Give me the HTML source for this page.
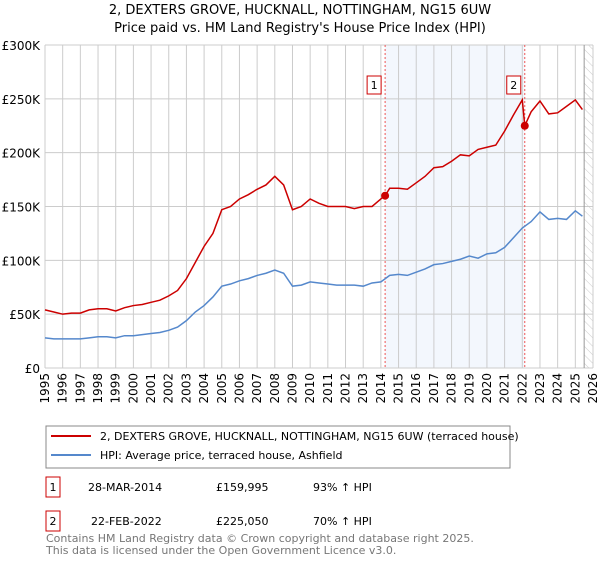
<!DOCTYPE html>
<html><head><meta charset="utf-8"><style>
body{margin:0;background:#fff;font-family:"Liberation Sans","DejaVu Sans",sans-serif}
</style></head><body>
<svg width="600" height="560" xmlns="http://www.w3.org/2000/svg" font-family="DejaVu Sans, Liberation Sans, sans-serif">
<text x="300" y="14" text-anchor="middle" font-size="13">2, DEXTERS GROVE, HUCKNALL, NOTTINGHAM, NG15 6UW</text>
<text x="300" y="32" text-anchor="middle" font-size="13">Price paid vs. HM Land Registry's House Price Index (HPI)</text>
<g id="plot"></g>
<g>
<rect x="46" y="426" width="464" height="42" fill="#fff" stroke="#888" stroke-width="1"/>
<line x1="51" y1="436" x2="91" y2="436" stroke="#cc0000" stroke-width="2"/>
<text x="100" y="440" font-size="11">2, DEXTERS GROVE, HUCKNALL, NOTTINGHAM, NG15 6UW (terraced house)</text>
<line x1="51" y1="455" x2="91" y2="455" stroke="#5588cc" stroke-width="2"/>
<text x="100" y="459" font-size="11">HPI: Average price, terraced house, Ashfield</text>
</g>
<g font-size="11">
<rect x="46" y="477" width="14" height="20" fill="none" stroke="#cc0000"/><text x="53" y="491" text-anchor="middle">1</text>
<text x="88" y="491">28-MAR-2014</text><text x="216" y="491">£159,995</text><text x="313" y="491">93% ↑ HPI</text>
<rect x="46" y="511" width="14" height="20" fill="none" stroke="#cc0000"/><text x="53" y="525" text-anchor="middle">2</text>
<text x="91" y="525">22-FEB-2022</text><text x="216" y="525">£225,050</text><text x="313" y="525">70% ↑ HPI</text>
</g>
<text x="46" y="542" font-size="11" fill="#777">Contains HM Land Registry data © Crown copyright and database right 2025.</text>
<text x="46" y="554" font-size="11" fill="#777">This data is licensed under the Open Government Licence v3.0.</text>
</svg>
<script>
const years=[1995,1995.5,1996,1996.5,1997,1997.5,1998,1998.5,1999,1999.5,2000,2000.5,2001,2001.5,2002,2002.5,2003,2003.5,2004,2004.5,2005,2005.5,2006,2006.5,2007,2007.5,2008,2008.5,2009,2009.5,2010,2010.5,2011,2011.5,2012,2012.5,2013,2013.5,2014,2014.5,2015,2015.5,2016,2016.5,2017,2017.5,2018,2018.5,2019,2019.5,2020,2020.5,2021,2021.5,2022,2022.5,2023,2023.5,2024,2024.5,2025,2025.4];
const hpiValues=[28,27,27,27,27,28,29,29,28,30,30,31,32,33,35,38,44,52,58,66,76,78,81,83,86,88,91,88,76,77,80,79,78,77,77,77,76,79,80,86,87,86,89,92,96,97,99,101,104,102,106,107,112,121,130,136,145,138,139,138,146,141];
const priceYears=[1995,1995.5,1996,1996.5,1997,1997.5,1998,1998.5,1999,1999.5,2000,2000.5,2001,2001.5,2002,2002.5,2003,2003.5,2004,2004.5,2005,2005.5,2006,2006.5,2007,2007.5,2008,2008.5,2009,2009.5,2010,2010.5,2011,2011.5,2012,2012.5,2013,2013.5,2014,2014.24,2014.5,2015,2015.5,2016,2016.5,2017,2017.5,2018,2018.5,2019,2019.5,2020,2020.5,2021,2021.5,2022,2022.14,2022.5,2023,2023.5,2024,2024.5,2025,2025.4];
const priceValues=[54,52,50,51,51,54,55,55,53,56,58,59,61,63,67,72,83,98,113,125,147,150,157,161,166,170,178,170,147,150,157,153,150,150,150,148,150,150,157,160,167,167,166,172,178,186,187,192,198,197,203,205,207,220,235,249,225,238,248,236,237,243,249,240];
const saleYears=[2014.24,2022.14];
const saleValues=[160,225];
const saleLabels=["1","2"];
const yTicks=[0,50,100,150,200,250,300];
const yTickLabels=["£0","£50K","£100K","£150K","£200K","£250K","£300K"];
const xTicks=[1995,1996,1997,1998,1999,2000,2001,2002,2003,2004,2005,2006,2007,2008,2009,2010,2011,2012,2013,2014,2015,2016,2017,2018,2019,2020,2021,2022,2023,2024,2025,2026];

const X0=45,X1=593,Y0=368,Y1=45;
const xs=v=>X0+(v-1995)/(2026-1995)*(X1-X0);
const ys=v=>Y0-v/300*(Y0-Y1);
const NS="http://www.w3.org/2000/svg";
const g=document.getElementById('plot');
function mk(t,a){const e=document.createElementNS(NS,t);for(const k in a)e.setAttribute(k,a[k]);g.appendChild(e);return e;}
// shaded region
let r=mk('rect',{x:xs(saleYears[0]),y:Y1,width:xs(saleYears[1])-xs(saleYears[0]),height:Y0-Y1,fill:'#eef3fc',opacity:0.7});


// hatch region
const defs=document.createElementNS(NS,'defs');defs.innerHTML='<pattern id="h" width="6" height="6" patternUnits="userSpaceOnUse" patternTransform="rotate(-45)"><line x1="0" y1="0" x2="0" y2="6" stroke="#ccc" stroke-width="1"/></pattern>';g.appendChild(defs);
let hr=mk('rect',{x:xs(2025.5),y:Y1,width:X1-xs(2025.5),height:Y0-Y1,fill:'url(#h)'});


xTicks.forEach(t=>{const l=mk('line',{x1:xs(t),x2:xs(t),y1:Y1,y2:Y0,stroke:'#ccc','stroke-width':1});


const tx=mk('text',{x:0,y:0,'font-size':12,'text-anchor':'end',transform:`translate(${xs(t)+4},${Y0+5}) rotate(-90)`});tx.textContent=t;

});
yTicks.forEach((t,i)=>{const l=mk('line',{x1:X0,x2:X1,y1:ys(t),y2:ys(t),stroke:'#ccc','stroke-width':1});


const tx=mk('text',{x:X0-5,y:ys(t)+5,'font-size':12,'text-anchor':'end'});tx.textContent=yTickLabels[i];

});
mk('line',{x1:xs(2025.5),x2:xs(2025.5),y1:Y1,y2:Y0,stroke:'#999','stroke-width':1});
saleYears.forEach(s=>{const l=mk('line',{x1:xs(s),x2:xs(s),y1:Y1,y2:Y0,stroke:'#e55','stroke-width':1,'stroke-dasharray':'2,2'});

});
const p1=mk('polyline',{points:years.map((y,i)=>xs(y)+','+ys(hpiValues[i])).join(' '),fill:'none',stroke:'#5588cc','stroke-width':1.5});


const p2=mk('polyline',{points:priceYears.map((y,i)=>xs(y)+','+ys(priceValues[i])).join(' '),fill:'none',stroke:'#cc0000','stroke-width':1.5});


saleYears.forEach((s,i)=>{const c=mk('circle',{cx:xs(s),cy:ys(saleValues[i]),r:4,fill:'#cc0000'});


const b=mk('rect',{x:xs(s)-18,y:76,width:14,height:18,fill:'#fff',stroke:'#cc0000'});


const t=mk('text',{x:xs(s)-11,y:89,'font-size':11,'text-anchor':'middle'});t.textContent=saleLabels[i];

});
</script>
</body></html>
